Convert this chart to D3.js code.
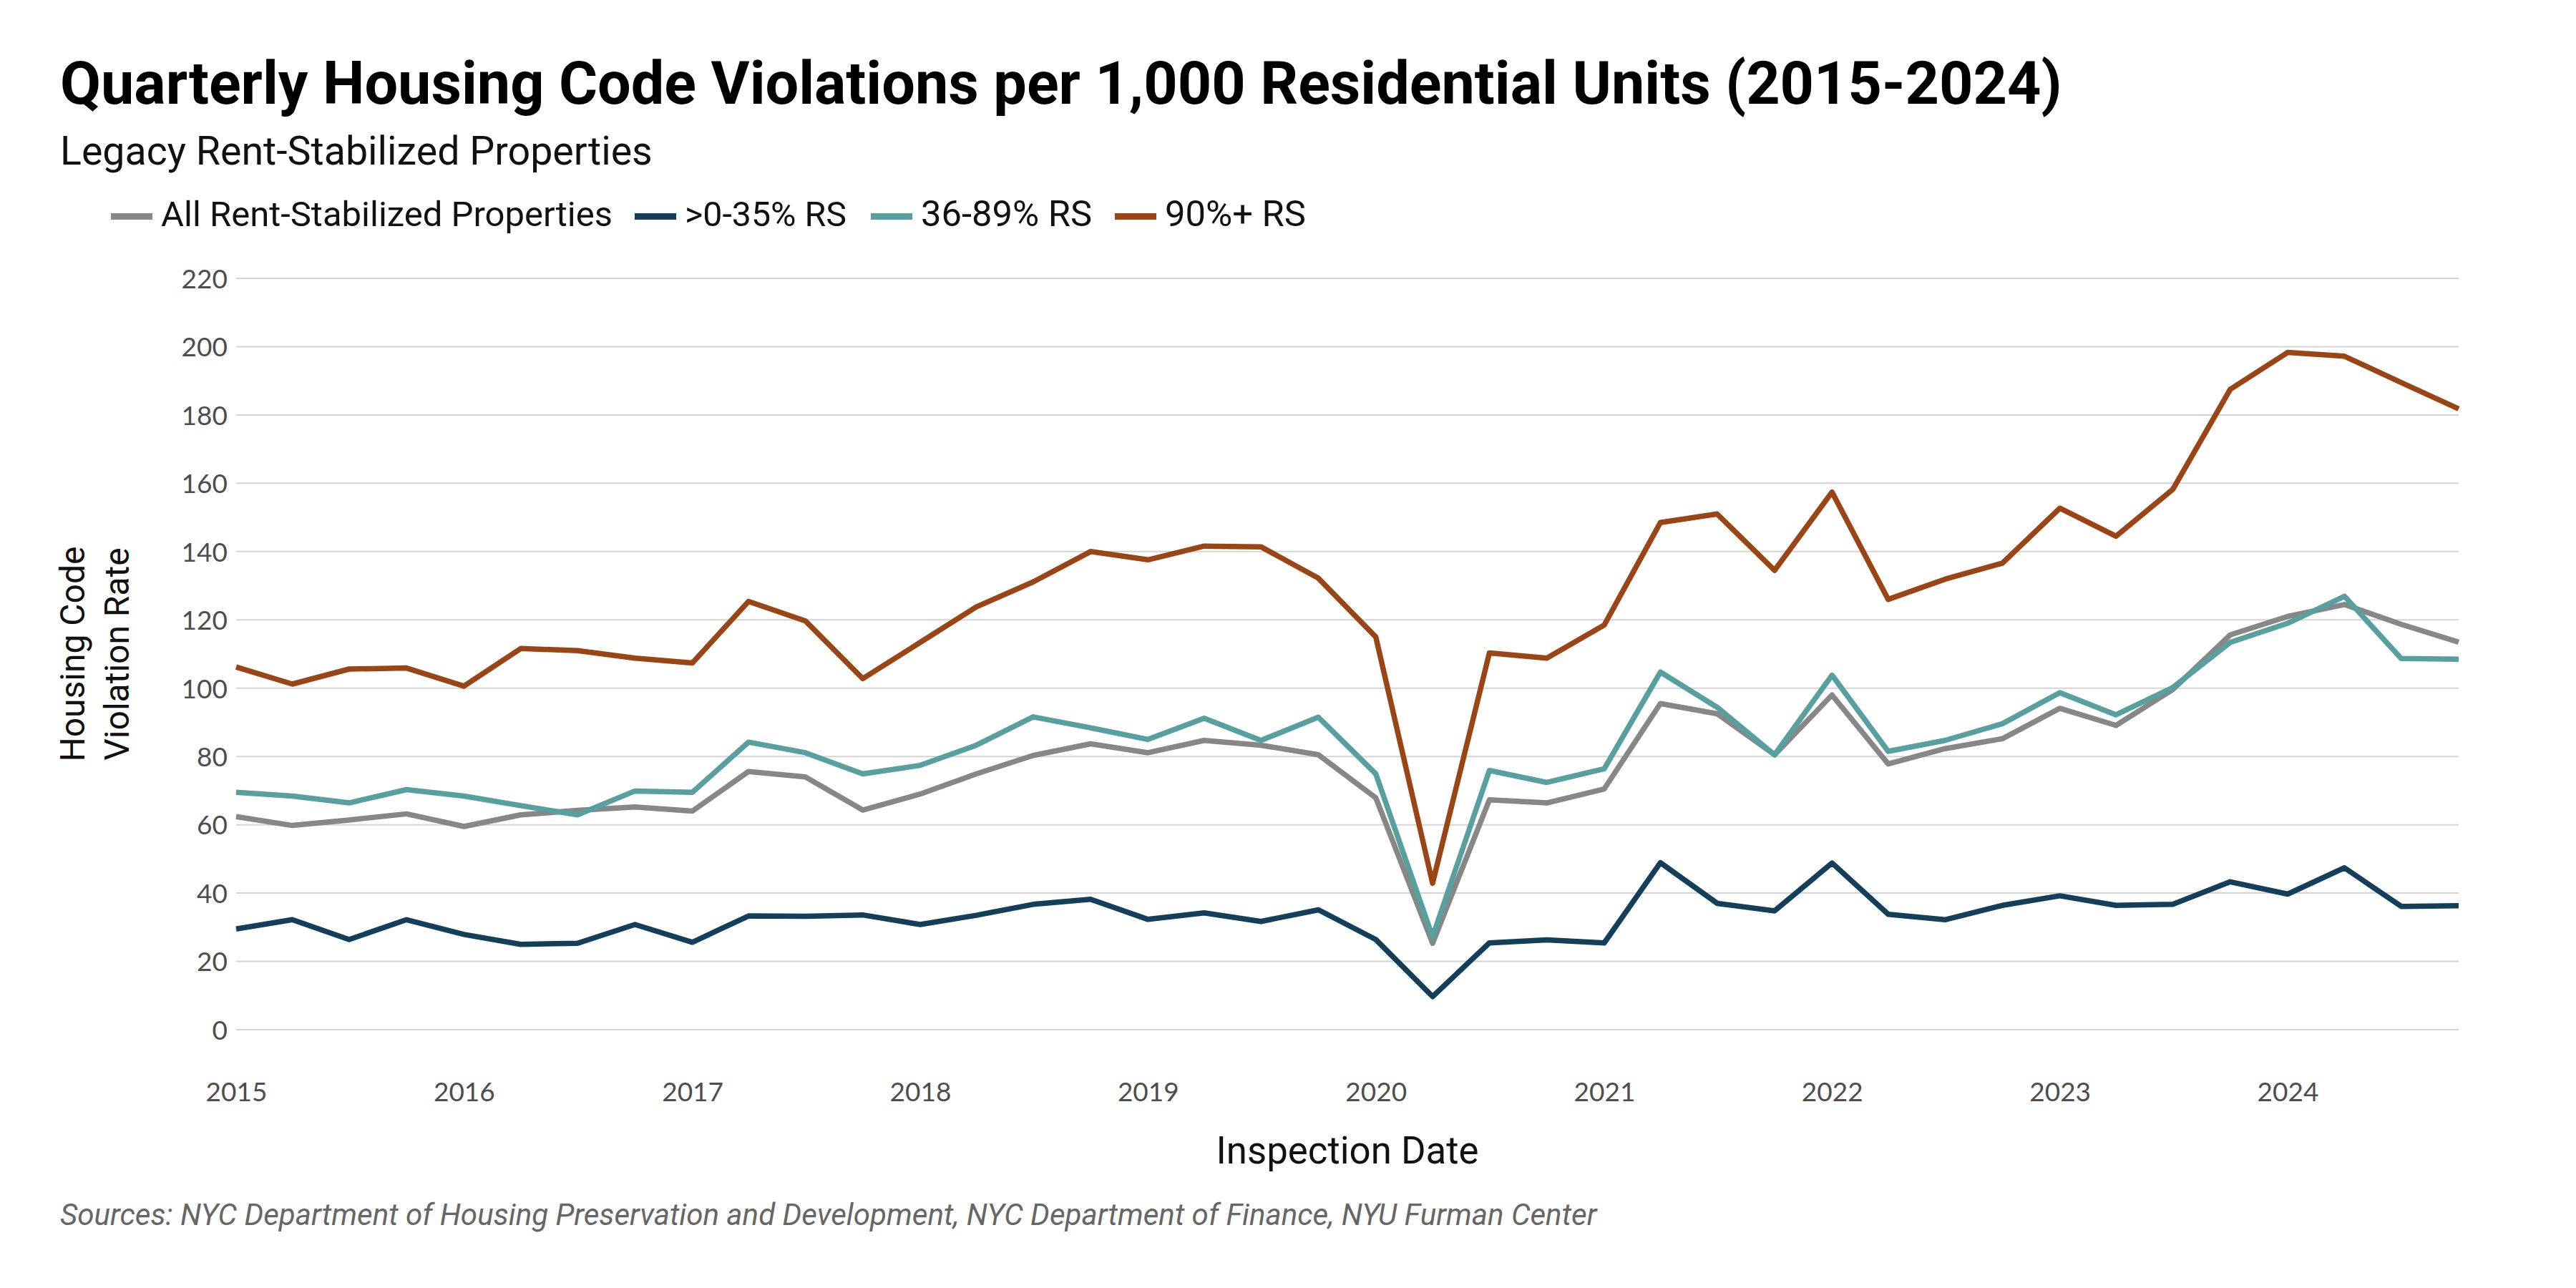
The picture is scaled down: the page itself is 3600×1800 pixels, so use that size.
<!DOCTYPE html>
<html><head><meta charset="utf-8">
<script src="https://cdn.jsdelivr.net/npm/d3@7"></script>
<style>body{margin:0;background:#fff}svg{display:block}</style>
</head><body>
<script>
const quarters = ["2015-01-01","2015-04-01","2015-07-01","2015-10-01","2016-01-01","2016-04-01","2016-07-01","2016-10-01",
"2017-01-01","2017-04-01","2017-07-01","2017-10-01","2018-01-01","2018-04-01","2018-07-01","2018-10-01",
"2019-01-01","2019-04-01","2019-07-01","2019-10-01","2020-01-01","2020-04-01","2020-07-01","2020-10-01",
"2021-01-01","2021-04-01","2021-07-01","2021-10-01","2022-01-01","2022-04-01","2022-07-01","2022-10-01",
"2023-01-01","2023-04-01","2023-07-01","2023-10-01","2024-01-01","2024-04-01","2024-07-01","2024-10-01"];

const allRS = [62.4,59.8,61.4,63.2,59.5,62.9,64.2,65.2,64.0,75.6,74.0,64.3,69.0,74.9,80.3,83.7,81.1,84.7,83.3,80.5,
67.9,25.3,67.3,66.4,70.5,95.5,92.5,80.5,98.0,77.8,82.3,85.2,94.1,89.1,99.6,115.6,121.0,124.5,118.7,113.5];
const rs0to35 = [29.5,32.2,26.4,32.2,27.9,25.0,25.3,30.8,25.6,33.3,33.2,33.6,30.8,33.5,36.7,38.2,32.3,34.2,31.7,35.1,
26.4,9.7,25.4,26.3,25.4,48.9,37.0,34.8,48.8,33.8,32.2,36.4,39.2,36.4,36.7,43.3,39.7,47.4,36.1,36.3];
const rs36to89 = [69.5,68.4,66.4,70.3,68.4,65.6,62.9,69.9,69.5,84.2,81.1,74.9,77.4,83.3,91.6,88.4,85.0,91.2,84.7,91.5,
74.9,27.2,75.9,72.4,76.4,104.7,94.4,80.5,103.8,81.5,84.7,89.6,98.7,92.2,100.2,113.4,119.0,126.9,108.7,108.5];
const rs90plus = [106.2,101.2,105.6,105.9,100.6,111.6,111.0,108.8,107.4,125.4,119.7,102.8,113.4,123.8,131.1,140.0,137.6,141.6,141.4,132.2,
115.0,42.9,110.3,108.8,118.5,148.5,151.0,134.5,157.4,126.0,131.9,136.6,152.7,144.5,158.2,187.5,198.3,197.2,189.5,181.8];

const seriesNames = ["All Rent-Stabilized Properties", ">0-35% RS", "36-89% RS", "90%+ RS"];
const seriesColors = ["#878787", "#143f5a", "#58a09f", "#9a4515"];
const yTicks = [0,20,40,60,80,100,120,140,160,180,200,220];
const xTickYears = ["2015","2016","2017","2018","2019","2020","2021","2022","2023","2024"];

const W = 3600, H = 1800;
const svg = d3.select("body").append("svg").attr("width", W).attr("height", H);
const parse = d3.timeParse("%Y-%m-%d");
const dates = quarters.map(parse);
const x = d3.scaleTime().domain([dates[0], dates[dates.length-1]]).range([330, 3436]);
const y = d3.scaleLinear().domain([0, 220]).range([1439, 389]);

function fit(sel, target) {
  const n = sel.node();
  const fs = parseFloat(sel.attr("font-size"));
  const w = n.getComputedTextLength();
  sel.attr("font-size", (fs * target / w).toFixed(2));
}

// grid
svg.append("g").selectAll("line").data(yTicks).join("line")
  .attr("x1", x.range()[0]).attr("x2", x.range()[1])
  .attr("y1", d => y(d)).attr("y2", d => y(d))
  .attr("stroke", "#d4d4d4").attr("stroke-width", 2);

// y axis labels
const yAxis = svg.append("g").attr("transform", "translate(318,0)")
  .call(d3.axisLeft(y).tickValues(yTicks).tickSize(0).tickPadding(0));
yAxis.select(".domain").remove();
yAxis.selectAll("text").attr("font-family", "Lato, sans-serif").attr("font-size", 37)
  .attr("fill", "#4d4d4d").attr("dy", "0.36em");

// x axis labels
const xAxis = svg.append("g").attr("transform", "translate(0,1513)")
  .call(d3.axisBottom(x).tickValues(xTickYears.map(s => parse(s + "-01-01"))).tickFormat(d3.timeFormat("%Y")).tickSize(0).tickPadding(0));
xAxis.select(".domain").remove();
xAxis.selectAll("text").attr("font-family", "Lato, sans-serif").attr("font-size", 37)
  .attr("fill", "#4d4d4d").attr("dy", "0.71em");

// lines
const allSeries = [allRS, rs0to35, rs36to89, rs90plus];
const line = d3.line().x((d, i) => x(dates[i])).y(d => y(d));
svg.append("g").selectAll("path").data(allSeries).join("path")
  .attr("d", d => line(d)).attr("fill", "none")
  .attr("stroke", (d, i) => seriesColors[i]).attr("stroke-width", 7.5)
  .attr("stroke-linejoin", "round").attr("stroke-linecap", "butt");

// title
const title = svg.append("text").attr("x", 84).attr("y", 145)
  .attr("font-family", "Roboto, sans-serif").attr("font-weight", 700).attr("font-size", 74)
  .attr("fill", "#000").text("Quarterly Housing Code Violations per 1,000 Residential Units (2015-2024)");
fit(title, 2798);

const sub = svg.append("text").attr("x", 84).attr("y", 230)
  .attr("font-family", "Roboto, sans-serif").attr("font-size", 48)
  .attr("fill", "#111").text("Legacy Rent-Stabilized Properties");
fit(sub, 828);

// legend
const legX = [155, 887, 1217, 1558];
const legTextW = [631, 226, 239, 197];
const leg = svg.append("g");
seriesNames.forEach((name, i) => {
  leg.append("rect").attr("x", legX[i]).attr("y", 298).attr("width", 58).attr("height", 9)
    .attr("fill", seriesColors[i]);
  const t = leg.append("text").attr("x", legX[i] + 70).attr("y", 316)
    .attr("font-family", "Roboto, sans-serif").attr("font-size", 42).attr("fill", "#111").text(name);
  fit(t, legTextW[i]);
});

// axis titles
const xt = svg.append("text").attr("x", (x.range()[0] + x.range()[1]) / 2).attr("y", 1626)
  .attr("text-anchor", "middle").attr("font-family", "Roboto, sans-serif").attr("font-size", 48)
  .attr("fill", "#111").text("Inspection Date");
fit(xt, 367);

const yt = svg.append("text").attr("transform", `translate(0,${(y.range()[0] + y.range()[1]) / 2}) rotate(-90)`)
  .attr("text-anchor", "middle").attr("font-family", "Roboto, sans-serif").attr("font-size", 48).attr("fill", "#111");
yt.append("tspan").attr("x", 0).attr("y", 118).text("Housing Code");
yt.append("tspan").attr("x", 0).attr("y", 180).text("Violation Rate");

const src = svg.append("text").attr("x", 84).attr("y", 1712)
  .attr("font-family", "Roboto, sans-serif").attr("font-style", "italic").attr("font-size", 40)
  .attr("fill", "#666").text("Sources: NYC Department of Housing Preservation and Development, NYC Department of Finance, NYU Furman Center");
fit(src, 2148);
</script>
</body></html>
